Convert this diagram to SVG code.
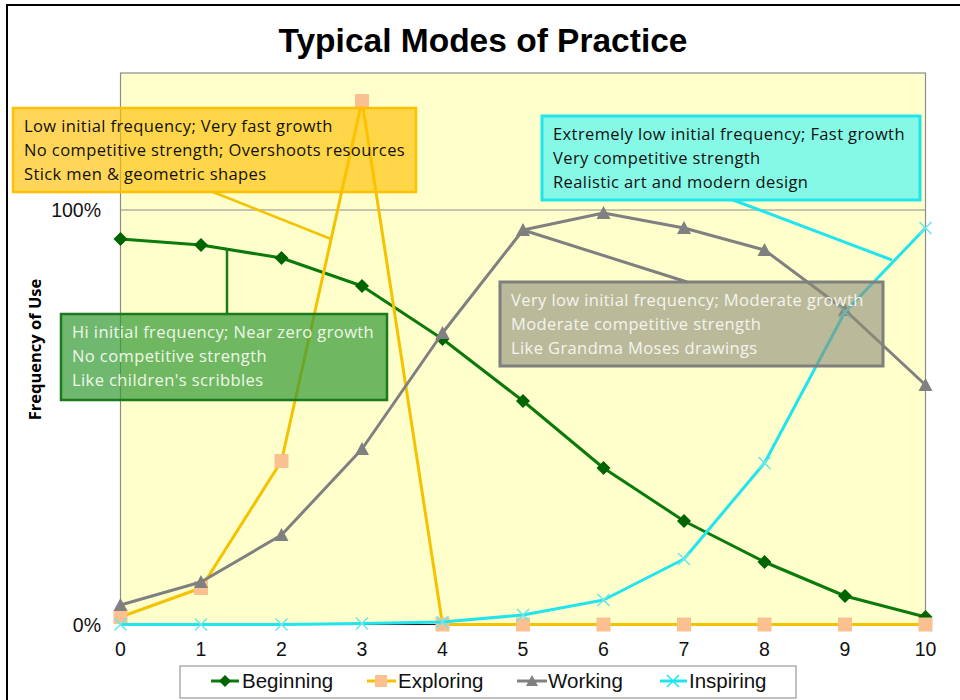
<svg xmlns="http://www.w3.org/2000/svg" width="960" height="700" viewBox="0 0 960 700">
<style>
.tick{font-family:"Liberation Sans",Arial,sans-serif;font-size:19.5px;fill:#111}
.co{font-family:"Open Sans","Noto Sans",sans-serif;font-size:16.5px;letter-spacing:0.4px}
.leg{font-family:"Liberation Sans",Arial,sans-serif;font-size:20.5px;fill:#111}
.ser{fill:none;stroke-width:3;stroke-linejoin:round}
</style>
<defs>
<marker id="mDia" markerUnits="userSpaceOnUse" markerWidth="16" markerHeight="16" refX="8" refY="8" overflow="visible"><path d="M8,1 L15,8 8,15 1,8Z" fill="#006400"/></marker>
<marker id="mSq" markerUnits="userSpaceOnUse" markerWidth="16" markerHeight="16" refX="8" refY="8" overflow="visible"><rect x="1" y="1" width="14" height="14" fill="#FAC090"/></marker>
<marker id="mTri" markerUnits="userSpaceOnUse" markerWidth="16" markerHeight="16" refX="8" refY="8" overflow="visible"><path d="M8,1 L15,14 1,14Z" fill="#808080"/></marker>
<marker id="mX" markerUnits="userSpaceOnUse" markerWidth="16" markerHeight="16" refX="8" refY="8" overflow="visible"><path d="M2,2 L14,14 M14,2 L2,14" stroke="#6EE6EC" stroke-width="1.6" fill="none"/></marker>
</defs>
<rect width="960" height="700" fill="#fff"/>
<rect x="7" y="5" width="1000" height="800" fill="none" stroke="#000" stroke-width="2"/>
<text x="483" y="52" text-anchor="middle" font-family="'Liberation Sans',Arial,sans-serif" font-weight="bold" font-size="33.5" fill="#000">Typical Modes of Practice</text>
<g id="plot">
<rect x="120.5" y="73" width="805" height="551.5" fill="#FFFFCC" stroke="#8C8C8C" stroke-width="1.2"/>
<line x1="120.5" y1="210" x2="925.5" y2="210" stroke="#8C8C8C" stroke-width="1.2"/>
<line x1="120.5" y1="624.5" x2="925.5" y2="624.5" stroke="#222" stroke-width="1.2"/>
</g>
<g id="axes">
<text class="tick" x="101" y="217" text-anchor="end">100%</text>
<text class="tick" x="101" y="632" text-anchor="end">0%</text>
<text class="tick" x="120.5" y="656" text-anchor="middle">0</text>
<text class="tick" x="201" y="656" text-anchor="middle">1</text>
<text class="tick" x="281.5" y="656" text-anchor="middle">2</text>
<text class="tick" x="362" y="656" text-anchor="middle">3</text>
<text class="tick" x="442.5" y="656" text-anchor="middle">4</text>
<text class="tick" x="523" y="656" text-anchor="middle">5</text>
<text class="tick" x="603.5" y="656" text-anchor="middle">6</text>
<text class="tick" x="684" y="656" text-anchor="middle">7</text>
<text class="tick" x="764.5" y="656" text-anchor="middle">8</text>
<text class="tick" x="845" y="656" text-anchor="middle">9</text>
<text class="tick" x="925.5" y="656" text-anchor="middle">10</text>
<text transform="translate(41,349.5) rotate(-90)" text-anchor="middle" font-family="'Open Sans','Noto Sans',sans-serif" font-weight="bold" font-size="16.5" fill="#000">Frequency of Use</text>
</g>
<g id="series">
<polyline id="beginning" class="ser" stroke="#0A7A0A" marker-start="url(#mDia)" marker-mid="url(#mDia)" marker-end="url(#mDia)" points="120.5,239 201,245 281.5,258 362,286 442.5,339 523,401 603.5,468 684,521 764.5,562 845,596 925.5,617"/>
<polyline id="exploring" class="ser" stroke="#F5C200" marker-start="url(#mSq)" marker-mid="url(#mSq)" marker-end="url(#mSq)" points="120.5,617 201,588 281.5,461 362,101 442.5,624.5 523,624.5 603.5,624.5 684,624.5 764.5,624.5 845,624.5 925.5,624.5"/>
<polyline id="working" class="ser" stroke="#808080" marker-start="url(#mTri)" marker-mid="url(#mTri)" marker-end="url(#mTri)" points="120.5,605 201,582 281.5,535 362,449 442.5,333 523,230 603.5,213 684,228 764.5,250 845,310 925.5,385"/>
<polyline id="inspiring" class="ser" stroke="#22E4EE" marker-start="url(#mX)" marker-mid="url(#mX)" marker-end="url(#mX)" points="120.5,624.5 201,624.5 281.5,624.5 362,623.5 442.5,622 523,615 603.5,600 684,559 764.5,463 845,312 925.5,228"/>
</g>
<g id="connectors" stroke-width="2.5" fill="none">
<line x1="213" y1="192" x2="331" y2="239" stroke="#F5C200"/>
<line x1="733" y1="200" x2="892" y2="260" stroke="#22E4EE" stroke-width="3"/>
<line x1="227" y1="249" x2="227" y2="314" stroke="#1B7A1B"/>
<line x1="687" y1="282" x2="523" y2="230" stroke="#7F7F7F" stroke-width="3"/>
</g>
<g id="callout-exploring">
<rect x="13" y="108" width="403" height="84" fill="#FFC000" fill-opacity="0.65" stroke="#FFC000" stroke-width="2.5"/>
<text class="co" fill="#111"><tspan x="24" y="132">Low initial frequency; Very fast growth</tspan><tspan x="24" y="156">No competitive strength; Overshoots resources</tspan><tspan x="24" y="180">Stick men &amp; geometric  shapes</tspan></text>
</g>
<g id="callout-inspiring">
<rect x="542" y="116" width="378" height="84" fill="#86F9E6" stroke="#22E4EE" stroke-width="3"/>
<text class="co" fill="#111"><tspan x="553" y="140">Extremely low initial frequency; Fast growth</tspan><tspan x="553" y="164">Very competitive strength</tspan><tspan x="553" y="188">Realistic art and modern design</tspan></text>
</g>
<g id="callout-beginning">
<rect x="61" y="314" width="326" height="86" fill="#339933" fill-opacity="0.7" stroke="#1B7A1B" stroke-width="2.5"/>
<text class="co" fill="#EEF7E8"><tspan x="72" y="338">Hi initial frequency; Near zero growth</tspan><tspan x="72" y="362">No competitive strength</tspan><tspan x="72" y="386">Like children's scribbles</tspan></text>
</g>
<g id="callout-working">
<rect x="500" y="282" width="383" height="84" fill="#8C8C78" fill-opacity="0.6" stroke="#7F7F7F" stroke-width="3"/>
<text class="co" fill="#F4F4EE"><tspan x="511" y="306">Very low initial frequency; Moderate growth</tspan><tspan x="511" y="330">Moderate competitive strength</tspan><tspan x="511" y="354">Like Grandma Moses drawings</tspan></text>
</g>
<g id="legend">
<rect x="180" y="666" width="616" height="32" fill="#fff" stroke="#999" stroke-width="1.2"/>
<line x1="211" y1="681" x2="239" y2="681" stroke="#0A7A0A" stroke-width="3"/>
<path d="M225,675 L231,681 225,687 219,681Z" fill="#006400"/>
<text class="leg" x="242" y="688">Beginning</text>
<line x1="367" y1="681" x2="396" y2="681" stroke="#F5C200" stroke-width="3"/>
<rect x="375" y="675" width="12" height="12" fill="#FAC090"/>
<text class="leg" x="398" y="688">Exploring</text>
<line x1="517" y1="681" x2="547" y2="681" stroke="#808080" stroke-width="3"/>
<path d="M532,675 L538,686 526,686Z" fill="#808080"/>
<text class="leg" x="548" y="688">Working</text>
<line x1="660" y1="681" x2="687" y2="681" stroke="#22E4EE" stroke-width="3"/>
<path d="M667,675 L679,687 M679,675 L667,687" stroke="#22E4EE" stroke-width="1.6"/>
<text class="leg" x="689" y="688">Inspiring</text>
</g>
</svg>
